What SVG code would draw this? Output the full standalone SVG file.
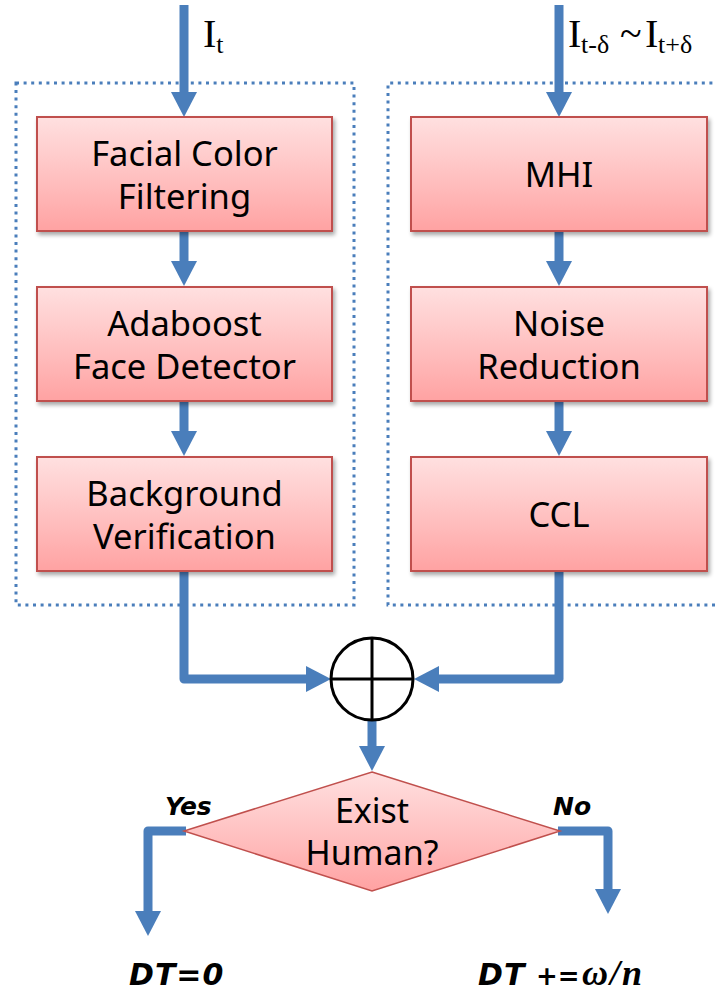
<svg xmlns="http://www.w3.org/2000/svg" width="716" height="993" viewBox="0 0 716 993">
  <defs>
    <linearGradient id="boxFill" x1="0" y1="0" x2="0" y2="1">
      <stop offset="0" stop-color="#ffe0e0"/>
      <stop offset="0.6" stop-color="#ffbcbc"/>
      <stop offset="1" stop-color="#ffa2a2"/>
    </linearGradient>
    <filter id="shadow" x="-10%" y="-10%" width="125%" height="130%">
      <feGaussianBlur in="SourceAlpha" stdDeviation="2"/>
      <feOffset dx="2" dy="3" result="b"/>
      <feComponentTransfer><feFuncA type="linear" slope="0.35"/></feComponentTransfer>
      <feMerge><feMergeNode/><feMergeNode in="SourceGraphic"/></feMerge>
    </filter>
    <marker id="head" markerUnits="userSpaceOnUse" markerWidth="26" markerHeight="26" viewBox="0 -13 26 26" refX="1" refY="0" orient="auto">
      <path d="M0,-13 L25,0 L0,13 Z" fill="#4a7ebb"/>
    </marker>
  </defs>
  <style>
    .group { fill: none; stroke: #4a7ebb; stroke-width: 3; stroke-dasharray: 3 4.6; }
    .box { fill: url(#boxFill); stroke: #c0504d; stroke-width: 2; filter: url(#shadow); }
    .label { font-family: "Noto Sans", "Open Sans", sans-serif; font-size: 34.5px; fill: #000; text-anchor: middle; }
    .flow { fill: none; stroke: #4a7ebb; stroke-width: 9; stroke-linejoin: round; marker-end: url(#head); }
    .math { font-family: "Liberation Serif", "Times New Roman", serif; fill: #000; }
    .tag { font-family: "DejaVu Sans", "Liberation Sans", sans-serif; font-weight: bold; font-style: italic; fill: #000; }
  </style>
  <rect width="716" height="993" fill="#fff"/>

  <!-- dotted grouping frames -->
  <rect id="frame-face" class="group" x="16" y="83" width="338" height="522"/>
  <path id="frame-motion" class="group" d="M720,83 H388 V605 H720"/>

  <!-- connectors -->
  <g id="connectors">
    <path class="flow" d="M184,5 V93"/>
    <path class="flow" d="M559,5 V93"/>
    <path class="flow" d="M184,231 V262"/>
    <path class="flow" d="M184,401 V432"/>
    <path class="flow" d="M559,231 V262"/>
    <path class="flow" d="M559,401 V432"/>
    <path class="flow" d="M184,571 V679 H307"/>
    <path class="flow" d="M559,571 V679 H438"/>
    <path class="flow" d="M372,720 V747"/>
    <path class="flow" d="M186,831 H148 V912"/>
    <path class="flow" d="M558,831 H608 V890"/>
  </g>

  <!-- input labels -->
  <text class="math" font-size="40" x="203" y="47">I<tspan font-size="26" dy="6">t</tspan></text>
  <text class="math" font-size="40" y="47"><tspan x="568">I</tspan><tspan font-size="26" dy="6" x="581">t-δ</tspan><tspan dy="-6" x="620">~</tspan><tspan x="645">I</tspan><tspan font-size="26" dy="6" x="658">t+δ</tspan></text>

  <!-- face branch -->
  <g id="facial-color-filtering">
    <rect class="box" x="37" y="117" width="295" height="114"/>
    <text class="label" x="184.5" y="166">Facial Color</text>
    <text class="label" x="184.5" y="209">Filtering</text>
  </g>
  <g id="adaboost-face-detector">
    <rect class="box" x="37" y="287" width="295" height="114"/>
    <text class="label" x="184.5" y="336">Adaboost</text>
    <text class="label" x="184.5" y="379">Face Detector</text>
  </g>
  <g id="background-verification">
    <rect class="box" x="37" y="457" width="295" height="114"/>
    <text class="label" x="184.5" y="506">Background</text>
    <text class="label" x="184.5" y="549">Verification</text>
  </g>

  <!-- motion branch -->
  <g id="mhi">
    <rect class="box" x="411" y="117" width="296" height="114"/>
    <text class="label" x="559" y="187">MHI</text>
  </g>
  <g id="noise-reduction">
    <rect class="box" x="411" y="287" width="296" height="114"/>
    <text class="label" x="559" y="336">Noise</text>
    <text class="label" x="559" y="379">Reduction</text>
  </g>
  <g id="ccl">
    <rect class="box" x="411" y="457" width="296" height="114"/>
    <text class="label" x="559" y="527">CCL</text>
  </g>

  <!-- combiner -->
  <g id="combine">
    <circle cx="372" cy="679" r="41" fill="#fff" stroke="#000" stroke-width="3"/>
    <path d="M372,638 V720 M331,679 H413" stroke="#000" stroke-width="3"/>
  </g>

  <!-- decision -->
  <g id="exist-human">
    <polygon points="372,772 560,831 372,891 184,831" fill="url(#boxFill)" stroke="#c0504d" stroke-width="1.5"/>
    <text class="label" x="372" y="823" style="font-size:34px">Exist</text>
    <text class="label" x="372" y="865" style="font-size:34px">Human?</text>
  </g>

  <text class="tag" font-size="25" x="165" y="815">Yes</text>
  <text class="tag" font-size="25" x="553" y="815">No</text>

  <g id="dt-reset">
    <text class="tag" font-size="30" letter-spacing="1" x="129" y="985">DT=0</text>
  </g>
  <g id="dt-increase">
    <text class="tag" font-size="30" y="985"><tspan x="478" letter-spacing="1">DT</tspan><tspan x="536" font-size="26">+=</tspan><tspan x="582" font-family="Liberation Serif, serif" font-size="36" letter-spacing="2">ω/n</tspan></text>
  </g>
</svg>
